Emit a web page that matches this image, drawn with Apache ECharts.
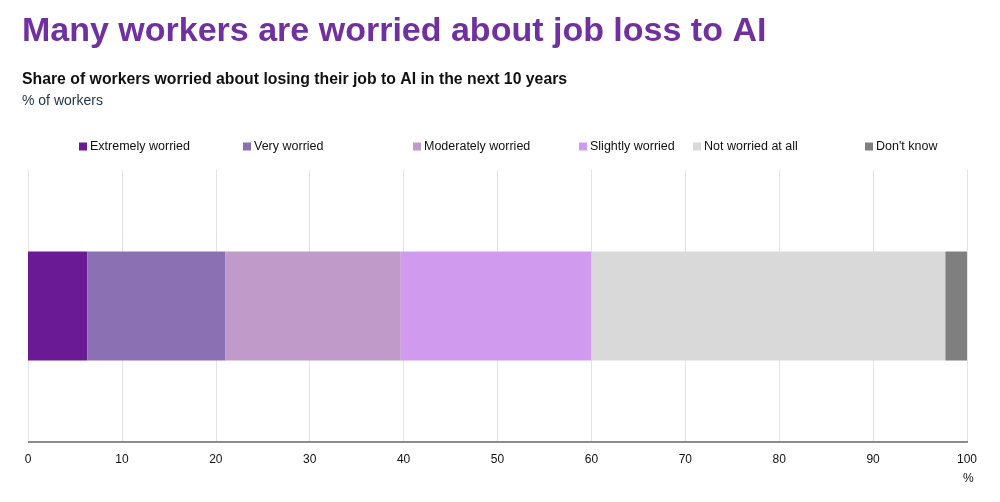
<!DOCTYPE html>
<html>
<head>
<meta charset="utf-8">
<script src="https://cdn.jsdelivr.net/npm/echarts@6/dist/echarts.min.js"></script>
<style>
  html, body { margin: 0; padding: 0; background: #fff; }
  #chart { width: 1000px; height: 502px; }
</style>
</head>
<body>
<div id="chart"></div>
<script>
var seriesNames = ['Extremely worried', 'Very worried', 'Moderately worried', 'Slightly worried', 'Not worried at all', "Don't know"]
var seriesValues = [6.3, 14.7, 18.7, 20.3, 37.7, 2.3]
var seriesColors = ['#6b1a96', '#8b71b4', '#c09bc9', '#d09bee', '#d9d9d9', '#7f7f7f']
var categories = ['Workers']
var xTicks = [0, 10, 20, 30, 40, 50, 60, 70, 80, 90, 100]

var legendLeft = [74, 238, 408, 574, 688, 860]
var font = 'Liberation Sans, Arial, sans-serif'

var chart = echarts.init(document.getElementById('chart'))

var legends = seriesNames.map(function (name, i) {
  return {
    data: [name],
    left: legendLeft[i],
    top: 135,
    itemWidth: 8,
    itemHeight: 8,
    icon: 'rect',
    selectedMode: false,
    textStyle: { fontFamily: font, fontSize: 12.5, color: '#111', padding: [0, 0, 0, -2] }
  }
})

var series = seriesNames.map(function (name, i) {
  return {
    name: name,
    type: 'bar',
    stack: 'all',
    barWidth: 109,
    itemStyle: { color: seriesColors[i] },
    emphasis: { disabled: true },
    data: [seriesValues[i]]
  }
})

chart.setOption({
  animation: false,
  textStyle: { fontFamily: font },
  title: [
    {
      text: 'Many workers are worried about job loss to AI',
      left: 17, top: 10,
      textStyle: { fontFamily: font, fontSize: 34, fontWeight: 'bold', color: '#7030a0' }
    },
    {
      text: 'Share of workers worried about losing their job to AI in the next 10 years',
      left: 17, top: 67,
      textStyle: { fontFamily: font, fontSize: 15.8, fontWeight: 'bold', color: '#111' }
    },
    {
      text: '% of workers',
      left: 17, top: 89,
      textStyle: { fontFamily: font, fontSize: 14, fontWeight: 'normal', color: '#1f3047' }
    }
  ],
  legend: legends,
  grid: { left: 28, right: 33, top: 170, bottom: 60 },
  xAxis: {
    type: 'value',
    min: 0,
    max: 100,
    interval: 10,
    axisLine: { show: false },
    axisTick: { show: false },
    splitLine: { show: true, lineStyle: { color: '#e3e3e3', width: 1 } },
    axisLabel: {
      color: '#111', fontSize: 12, margin: 12,
      formatter: function (v) { return xTicks.indexOf(v) >= 0 ? String(v) : '' }
    }
  },
  yAxis: {
    type: 'category',
    data: categories,
    axisLine: { show: false },
    axisTick: { show: false },
    axisLabel: { show: false }
  },
  graphic: [
    {
      type: 'line',
      shape: { x1: 28, y1: 442, x2: 968, y2: 442 },
      style: { stroke: '#8c8c8c', lineWidth: 2 },
      z: 100
    },
    {
      type: 'text',
      left: 963, top: 473,
      style: { text: '%', fontFamily: font, fontSize: 12, fill: '#111' }
    }
  ],
  series: series
})
</script>
</body>
</html>
